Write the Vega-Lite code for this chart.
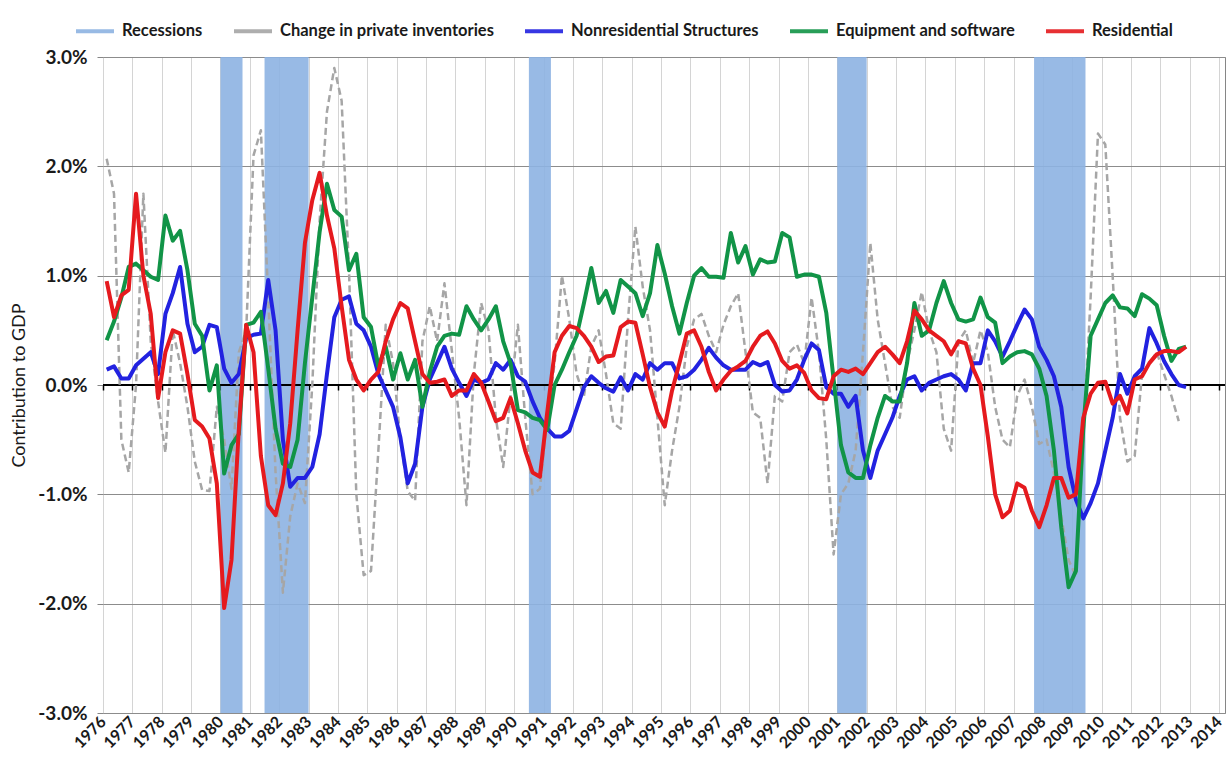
{
  "$schema": "https://vega.github.io/schema/vega-lite/v6.json",
  "width": 1122,
  "height": 656,
  "autosize": {"type": "none"},
  "padding": {"left": 103, "top": 57, "right": 7, "bottom": 49},
  "background": "white",
  "config": {"view": {"stroke": "#868686", "strokeWidth": 1}, "font": "Lato"},
  "datasets": {
    "rec": [
      {"start": 1980.0, "end": 1980.75, "series": "rec"},
      {"start": 1981.5, "end": 1983.0, "series": "rec"},
      {"start": 1990.5, "end": 1991.25, "series": "rec"},
      {"start": 2001.0, "end": 2002.0, "series": "rec"},
      {"start": 2007.7, "end": 2009.45, "series": "rec"}
    ],
    "q": [
      {"t":1976.125,"inv":2.07,"nonres":0.14,"equip":0.41,"res":0.95},
      {"t":1976.375,"inv":1.75,"nonres":0.17,"equip":0.58,"res":0.62},
      {"t":1976.625,"inv":-0.5,"nonres":0.06,"equip":0.8,"res":0.82},
      {"t":1976.875,"inv":-0.8,"nonres":0.06,"equip":1.08,"res":0.87},
      {"t":1977.125,"inv":0.0,"nonres":0.18,"equip":1.11,"res":1.75},
      {"t":1977.375,"inv":1.75,"nonres":0.24,"equip":1.05,"res":1.0},
      {"t":1977.625,"inv":0.4,"nonres":0.3,"equip":0.99,"res":0.65},
      {"t":1977.875,"inv":-0.15,"nonres":0.1,"equip":0.96,"res":-0.12},
      {"t":1978.125,"inv":-0.62,"nonres":0.65,"equip":1.55,"res":0.3},
      {"t":1978.375,"inv":0.5,"nonres":0.84,"equip":1.32,"res":0.5},
      {"t":1978.625,"inv":0.2,"nonres":1.08,"equip":1.41,"res":0.47},
      {"t":1978.875,"inv":-0.2,"nonres":0.56,"equip":1.05,"res":0.1},
      {"t":1979.125,"inv":-0.7,"nonres":0.3,"equip":0.56,"res":-0.32},
      {"t":1979.375,"inv":-0.96,"nonres":0.35,"equip":0.45,"res":-0.38},
      {"t":1979.625,"inv":-0.97,"nonres":0.55,"equip":-0.05,"res":-0.49},
      {"t":1979.875,"inv":-0.2,"nonres":0.53,"equip":0.18,"res":-0.9},
      {"t":1980.125,"inv":-0.5,"nonres":0.15,"equip":-0.81,"res":-2.04},
      {"t":1980.375,"inv":-0.95,"nonres":0.02,"equip":-0.55,"res":-1.6},
      {"t":1980.625,"inv":0.3,"nonres":0.1,"equip":-0.45,"res":-0.4},
      {"t":1980.875,"inv":0.5,"nonres":0.43,"equip":0.55,"res":0.55},
      {"t":1981.125,"inv":2.1,"nonres":0.46,"equip":0.57,"res":0.3},
      {"t":1981.375,"inv":2.33,"nonres":0.47,"equip":0.67,"res":-0.65},
      {"t":1981.625,"inv":0.8,"nonres":0.96,"equip":0.15,"res":-1.1},
      {"t":1981.875,"inv":-0.8,"nonres":0.5,"equip":-0.4,"res":-1.19},
      {"t":1982.125,"inv":-1.9,"nonres":-0.5,"equip":-0.72,"res":-0.9},
      {"t":1982.375,"inv":-1.2,"nonres":-0.93,"equip":-0.75,"res":-0.35},
      {"t":1982.625,"inv":-0.9,"nonres":-0.85,"equip":-0.5,"res":0.5},
      {"t":1982.875,"inv":-1.08,"nonres":-0.85,"equip":0.2,"res":1.3},
      {"t":1983.125,"inv":0.0,"nonres":-0.75,"equip":0.8,"res":1.69},
      {"t":1983.375,"inv":1.5,"nonres":-0.45,"equip":1.4,"res":1.94},
      {"t":1983.625,"inv":2.5,"nonres":0.1,"equip":1.84,"res":1.55},
      {"t":1983.875,"inv":2.9,"nonres":0.62,"equip":1.6,"res":1.25},
      {"t":1984.125,"inv":2.6,"nonres":0.78,"equip":1.54,"res":0.72},
      {"t":1984.375,"inv":1.05,"nonres":0.81,"equip":1.05,"res":0.23},
      {"t":1984.625,"inv":-1.0,"nonres":0.56,"equip":1.2,"res":0.05},
      {"t":1984.875,"inv":-1.74,"nonres":0.5,"equip":0.62,"res":-0.05},
      {"t":1985.125,"inv":-1.7,"nonres":0.35,"equip":0.53,"res":0.05},
      {"t":1985.375,"inv":-0.6,"nonres":0.1,"equip":0.17,"res":0.12},
      {"t":1985.625,"inv":0.55,"nonres":-0.05,"equip":0.35,"res":0.4},
      {"t":1985.875,"inv":0.2,"nonres":-0.2,"equip":0.05,"res":0.6},
      {"t":1986.125,"inv":-0.5,"nonres":-0.48,"equip":0.29,"res":0.75},
      {"t":1986.375,"inv":-0.97,"nonres":-0.9,"equip":0.05,"res":0.7},
      {"t":1986.625,"inv":-1.06,"nonres":-0.72,"equip":0.23,"res":0.4},
      {"t":1986.875,"inv":0.4,"nonres":-0.2,"equip":-0.2,"res":0.1},
      {"t":1987.125,"inv":0.72,"nonres":0.05,"equip":0.12,"res":0.02},
      {"t":1987.375,"inv":0.4,"nonres":0.2,"equip":0.35,"res":0.03},
      {"t":1987.625,"inv":0.93,"nonres":0.35,"equip":0.45,"res":0.05},
      {"t":1987.875,"inv":0.32,"nonres":0.15,"equip":0.47,"res":-0.1},
      {"t":1988.125,"inv":-0.3,"nonres":0.02,"equip":0.46,"res":-0.05},
      {"t":1988.375,"inv":-1.1,"nonres":-0.1,"equip":0.72,"res":-0.05},
      {"t":1988.625,"inv":0.1,"nonres":0.05,"equip":0.6,"res":0.1},
      {"t":1988.875,"inv":0.75,"nonres":0.02,"equip":0.5,"res":0.02},
      {"t":1989.125,"inv":0.5,"nonres":0.05,"equip":0.6,"res":-0.15},
      {"t":1989.375,"inv":-0.3,"nonres":0.2,"equip":0.72,"res":-0.33},
      {"t":1989.625,"inv":-0.75,"nonres":0.14,"equip":0.4,"res":-0.3},
      {"t":1989.875,"inv":-0.1,"nonres":0.23,"equip":0.2,"res":-0.12},
      {"t":1990.125,"inv":0.55,"nonres":0.08,"equip":-0.23,"res":-0.35},
      {"t":1990.375,"inv":-0.3,"nonres":0.03,"equip":-0.25,"res":-0.6},
      {"t":1990.625,"inv":-1.0,"nonres":-0.15,"equip":-0.3,"res":-0.8},
      {"t":1990.875,"inv":-0.95,"nonres":-0.3,"equip":-0.32,"res":-0.84},
      {"t":1991.125,"inv":-0.3,"nonres":-0.4,"equip":-0.41,"res":-0.25},
      {"t":1991.375,"inv":0.2,"nonres":-0.47,"equip":0.0,"res":0.3},
      {"t":1991.625,"inv":1.0,"nonres":-0.47,"equip":0.14,"res":0.45},
      {"t":1991.875,"inv":0.6,"nonres":-0.42,"equip":0.3,"res":0.54},
      {"t":1992.125,"inv":0.1,"nonres":-0.22,"equip":0.45,"res":0.52},
      {"t":1992.375,"inv":-0.1,"nonres":-0.02,"equip":0.75,"res":0.45},
      {"t":1992.625,"inv":0.35,"nonres":0.08,"equip":1.07,"res":0.35},
      {"t":1992.875,"inv":0.5,"nonres":0.02,"equip":0.75,"res":0.21},
      {"t":1993.125,"inv":0.1,"nonres":-0.03,"equip":0.86,"res":0.26},
      {"t":1993.375,"inv":-0.35,"nonres":-0.06,"equip":0.66,"res":0.27},
      {"t":1993.625,"inv":-0.4,"nonres":0.07,"equip":0.96,"res":0.53},
      {"t":1993.875,"inv":0.6,"nonres":-0.05,"equip":0.9,"res":0.58},
      {"t":1994.125,"inv":1.45,"nonres":0.1,"equip":0.84,"res":0.57},
      {"t":1994.375,"inv":0.9,"nonres":0.05,"equip":0.63,"res":0.28},
      {"t":1994.625,"inv":0.5,"nonres":0.2,"equip":0.84,"res":-0.02},
      {"t":1994.875,"inv":-0.3,"nonres":0.14,"equip":1.28,"res":-0.25},
      {"t":1995.125,"inv":-1.1,"nonres":0.2,"equip":1.02,"res":-0.38},
      {"t":1995.375,"inv":-0.6,"nonres":0.2,"equip":0.72,"res":-0.05},
      {"t":1995.625,"inv":-0.2,"nonres":0.06,"equip":0.47,"res":0.2},
      {"t":1995.875,"inv":0.35,"nonres":0.08,"equip":0.75,"res":0.47},
      {"t":1996.125,"inv":0.6,"nonres":0.14,"equip":1.0,"res":0.5},
      {"t":1996.375,"inv":0.65,"nonres":0.23,"equip":1.07,"res":0.35},
      {"t":1996.625,"inv":0.45,"nonres":0.34,"equip":0.99,"res":0.12},
      {"t":1996.875,"inv":0.3,"nonres":0.25,"equip":0.99,"res":-0.05},
      {"t":1997.125,"inv":0.55,"nonres":0.18,"equip":0.98,"res":0.05},
      {"t":1997.375,"inv":0.72,"nonres":0.14,"equip":1.39,"res":0.13},
      {"t":1997.625,"inv":0.84,"nonres":0.14,"equip":1.12,"res":0.17},
      {"t":1997.875,"inv":0.3,"nonres":0.14,"equip":1.27,"res":0.22},
      {"t":1998.125,"inv":-0.25,"nonres":0.21,"equip":1.01,"res":0.35},
      {"t":1998.375,"inv":-0.3,"nonres":0.18,"equip":1.15,"res":0.45},
      {"t":1998.625,"inv":-0.9,"nonres":0.21,"equip":1.12,"res":0.49},
      {"t":1998.875,"inv":-0.1,"nonres":0.0,"equip":1.13,"res":0.38},
      {"t":1999.125,"inv":-0.15,"nonres":-0.06,"equip":1.39,"res":0.22},
      {"t":1999.375,"inv":0.3,"nonres":-0.05,"equip":1.35,"res":0.15},
      {"t":1999.625,"inv":0.37,"nonres":0.05,"equip":0.99,"res":0.18},
      {"t":1999.875,"inv":0.2,"nonres":0.23,"equip":1.01,"res":0.11},
      {"t":2000.125,"inv":0.8,"nonres":0.38,"equip":1.01,"res":-0.05},
      {"t":2000.375,"inv":0.3,"nonres":0.32,"equip":0.99,"res":-0.12},
      {"t":2000.625,"inv":-0.5,"nonres":-0.02,"equip":0.66,"res":-0.13},
      {"t":2000.875,"inv":-1.55,"nonres":-0.08,"equip":0.05,"res":0.08},
      {"t":2001.125,"inv":-1.0,"nonres":-0.08,"equip":-0.55,"res":0.14},
      {"t":2001.375,"inv":-0.9,"nonres":-0.2,"equip":-0.8,"res":0.12},
      {"t":2001.625,"inv":-0.6,"nonres":-0.1,"equip":-0.85,"res":0.15},
      {"t":2001.875,"inv":0.3,"nonres":-0.6,"equip":-0.85,"res":0.1},
      {"t":2002.125,"inv":1.3,"nonres":-0.85,"equip":-0.55,"res":0.2},
      {"t":2002.375,"inv":0.6,"nonres":-0.6,"equip":-0.3,"res":0.3},
      {"t":2002.625,"inv":0.2,"nonres":-0.45,"equip":-0.1,"res":0.35},
      {"t":2002.875,"inv":-0.2,"nonres":-0.3,"equip":-0.15,"res":0.28},
      {"t":2003.125,"inv":-0.3,"nonres":-0.1,"equip":-0.15,"res":0.2},
      {"t":2003.375,"inv":0.2,"nonres":0.05,"equip":0.2,"res":0.4},
      {"t":2003.625,"inv":0.5,"nonres":0.08,"equip":0.75,"res":0.68},
      {"t":2003.875,"inv":0.85,"nonres":-0.05,"equip":0.45,"res":0.6},
      {"t":2004.125,"inv":0.5,"nonres":0.02,"equip":0.5,"res":0.5},
      {"t":2004.375,"inv":0.3,"nonres":0.05,"equip":0.75,"res":0.45},
      {"t":2004.625,"inv":-0.4,"nonres":0.08,"equip":0.95,"res":0.4},
      {"t":2004.875,"inv":-0.6,"nonres":0.1,"equip":0.75,"res":0.28},
      {"t":2005.125,"inv":0.4,"nonres":0.05,"equip":0.6,"res":0.4},
      {"t":2005.375,"inv":0.5,"nonres":-0.05,"equip":0.58,"res":0.38},
      {"t":2005.625,"inv":0.2,"nonres":0.2,"equip":0.6,"res":0.15},
      {"t":2005.875,"inv":0.5,"nonres":0.2,"equip":0.8,"res":0.0},
      {"t":2006.125,"inv":0.3,"nonres":0.5,"equip":0.62,"res":-0.47},
      {"t":2006.375,"inv":-0.2,"nonres":0.4,"equip":0.57,"res":-1.0},
      {"t":2006.625,"inv":-0.5,"nonres":0.26,"equip":0.2,"res":-1.21},
      {"t":2006.875,"inv":-0.57,"nonres":0.4,"equip":0.26,"res":-1.15},
      {"t":2007.125,"inv":-0.1,"nonres":0.55,"equip":0.3,"res":-0.9},
      {"t":2007.375,"inv":0.05,"nonres":0.69,"equip":0.31,"res":-0.94},
      {"t":2007.625,"inv":-0.2,"nonres":0.6,"equip":0.28,"res":-1.15},
      {"t":2007.875,"inv":-0.54,"nonres":0.35,"equip":0.15,"res":-1.3},
      {"t":2008.125,"inv":-0.5,"nonres":0.23,"equip":-0.1,"res":-1.1},
      {"t":2008.375,"inv":-0.8,"nonres":0.08,"equip":-0.6,"res":-0.85},
      {"t":2008.625,"inv":-1.2,"nonres":-0.2,"equip":-1.3,"res":-0.85},
      {"t":2008.875,"inv":-1.6,"nonres":-0.75,"equip":-1.85,"res":-1.03},
      {"t":2009.125,"inv":-1.75,"nonres":-1.05,"equip":-1.7,"res":-1.0},
      {"t":2009.375,"inv":-0.5,"nonres":-1.22,"equip":-0.4,"res":-0.3},
      {"t":2009.625,"inv":0.8,"nonres":-1.08,"equip":0.45,"res":-0.08},
      {"t":2009.875,"inv":2.3,"nonres":-0.9,"equip":0.6,"res":0.02},
      {"t":2010.125,"inv":2.2,"nonres":-0.6,"equip":0.75,"res":0.03},
      {"t":2010.375,"inv":1.0,"nonres":-0.3,"equip":0.82,"res":-0.17},
      {"t":2010.625,"inv":-0.3,"nonres":0.1,"equip":0.71,"res":-0.1},
      {"t":2010.875,"inv":-0.7,"nonres":-0.08,"equip":0.7,"res":-0.26},
      {"t":2011.125,"inv":-0.65,"nonres":0.08,"equip":0.63,"res":0.05},
      {"t":2011.375,"inv":0.1,"nonres":0.15,"equip":0.83,"res":0.08},
      {"t":2011.625,"inv":0.2,"nonres":0.52,"equip":0.79,"res":0.2},
      {"t":2011.875,"inv":0.3,"nonres":0.38,"equip":0.73,"res":0.28},
      {"t":2012.125,"inv":0.1,"nonres":0.22,"equip":0.45,"res":0.31},
      {"t":2012.375,"inv":-0.1,"nonres":0.1,"equip":0.22,"res":0.31},
      {"t":2012.625,"inv":-0.33,"nonres":0.0,"equip":0.33,"res":0.3},
      {"t":2012.875,"inv":null,"nonres":-0.02,"equip":0.35,"res":0.35}
    ]
  },
  "resolve": {"axis": {"x": "independent"}},
  "layer": [
    {
      "data": {"name": "rec"},
      "mark": {"type": "rect", "opacity": 0.9},
      "encoding": {
        "x": {
          "field": "start", "type": "quantitative",
          "scale": {"domain": [1976, 2014.2], "nice": false, "zero": false},
          "axis": {
            "orient": "bottom", "title": null,
            "values": [1976,1977,1978,1979,1980,1981,1982,1983,1984,1985,1986,1987,1988,1989,1990,1991,1992,1993,1994,1995,1996,1997,1998,1999,2000,2001,2002,2003,2004,2005,2006,2007,2008,2009,2010,2011,2012,2013,2014],
            "format": "d", "labelAngle": -45, "labelAlign": "right", "labelBaseline": "middle",
            "labelFontSize": 16, "labelFontWeight": "bold", "labelColor": "#1a1a1a", "labelPadding": 6,
            "labelOverlap": false, "labelFlush": false, "labelBound": false,
            "ticks": false, "domain": false,
            "grid": true, "gridColor": "#D4D4D4", "gridWidth": 1
          }
        },
        "x2": {"field": "end"},
        "color": {
          "field": "series", "type": "nominal",
          "scale": {
            "domain": ["rec", "inv", "nonres", "equip", "res"],
            "range": ["#8DB3E2", "#A6A6A6", "#2222E0", "#119447", "#E51A1E"]
          },
          "legend": {
            "orient": "none", "legendX": -29, "legendY": -47,
            "direction": "horizontal", "columns": 5, "title": null,
            "symbolType": "stroke", "symbolSize": 1444, "symbolStrokeWidth": 4,
            "labelFontSize": 16.5, "labelFontWeight": "bold", "labelColor": "#1a1a1a",
            "labelOffset": 6, "columnPadding": 23, "labelLimit": 400, "padding": 0,
            "labelExpr": "datum.label == 'rec' ? 'Recessions' : datum.label == 'inv' ? 'Change in private inventories' : datum.label == 'nonres' ? 'Nonresidential Structures' : datum.label == 'equip' ? 'Equipment and software' : 'Residential'",
            "encode": {
              "symbols": {
                "update": {
                  "stroke": {"scale": "color", "field": "value"},
                  "fill": {"value": "transparent"},
                  "opacity": {"value": 1},
                  "strokeCap": {"value": "butt"},
                  "strokeWidth": {"signal": "datum.value == 'rec' ? 9 : datum.value == 'inv' ? 3 : 4"},
                  "strokeDash": {"signal": "datum.value == 'inv' ? [7, 4] : [1, 0]"}
                }
              }
            }
          }
        }
      }
    },
    {
      "data": {"values": [{"zero": 0}]},
      "mark": {"type": "rule", "color": "black", "strokeWidth": 2},
      "encoding": {"y": {"field": "zero", "type": "quantitative"}}
    },
    {
      "data": {"name": "q"},
      "transform": [{"fold": ["inv"], "as": ["series", "value"]}],
      "mark": {"type": "line", "strokeWidth": 2.5, "strokeDash": [7, 4], "strokeJoin": "round"},
      "encoding": {
        "x": {
          "field": "t", "type": "quantitative",
          "axis": {
            "orient": "bottom", "offset": -328, "title": null,
            "values": [1976,1977,1978,1979,1980,1981,1982,1983,1984,1985,1986,1987,1988,1989,1990,1991,1992,1993,1994,1995,1996,1997,1998,1999,2000,2001,2002,2003,2004,2005,2006,2007,2008,2009,2010,2011,2012,2013,2014],
            "labels": false, "grid": false, "domain": false,
            "ticks": true, "tickColor": "black", "tickSize": 5, "tickWidth": 1.5
          }
        },
        "y": {
          "field": "value", "type": "quantitative",
          "scale": {"domain": [-3, 3], "nice": false, "zero": false},
          "axis": {
            "values": [-3, -2, -1, 0, 1, 2, 3],
            "labelExpr": "replace(format(datum.value, '.1f'), '\u2212', '-') + '%'",
            "labelFontSize": 19, "labelFontWeight": "bold", "labelColor": "#1a1a1a", "labelPadding": 10,
            "tickSize": 6, "tickColor": "#868686", "domain": false,
            "grid": true, "gridColor": "#8C8C8C", "gridWidth": 1,
            "title": "Contribution to GDP", "titleFontSize": 18, "titleFontWeight": "normal",
            "titleColor": "#1a1a1a", "titlePadding": 9
          }
        },
        "color": {"field": "series", "type": "nominal"}
      }
    },
    {
      "data": {"name": "q"},
      "transform": [{"fold": ["nonres"], "as": ["series", "value"]}],
      "mark": {"type": "line", "strokeWidth": 4, "strokeJoin": "round"},
      "encoding": {
        "x": {"field": "t", "type": "quantitative", "axis": null},
        "y": {"field": "value", "type": "quantitative"},
        "color": {"field": "series", "type": "nominal"}
      }
    },
    {
      "data": {"name": "q"},
      "transform": [{"fold": ["equip"], "as": ["series", "value"]}],
      "mark": {"type": "line", "strokeWidth": 4, "strokeJoin": "round"},
      "encoding": {
        "x": {"field": "t", "type": "quantitative", "axis": null},
        "y": {"field": "value", "type": "quantitative"},
        "color": {"field": "series", "type": "nominal"}
      }
    },
    {
      "data": {"name": "q"},
      "transform": [{"fold": ["res"], "as": ["series", "value"]}],
      "mark": {"type": "line", "strokeWidth": 4, "strokeJoin": "round"},
      "encoding": {
        "x": {"field": "t", "type": "quantitative", "axis": null},
        "y": {"field": "value", "type": "quantitative"},
        "color": {"field": "series", "type": "nominal"}
      }
    }
  ]
}
